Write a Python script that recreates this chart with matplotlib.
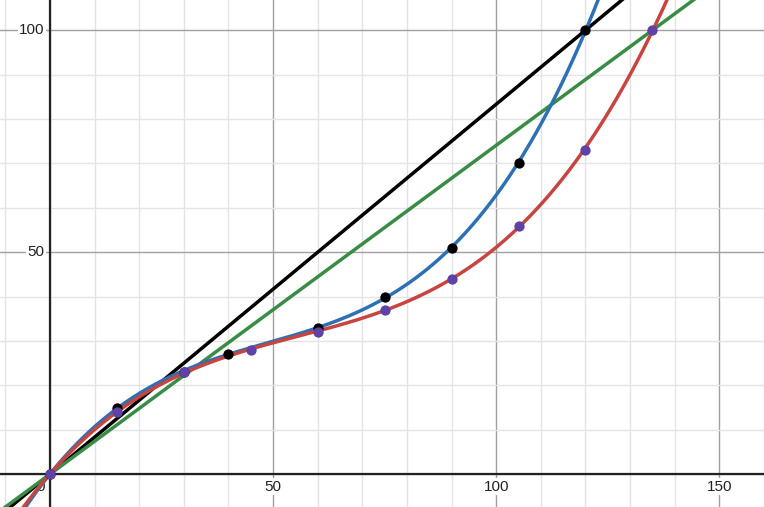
import numpy as np
import matplotlib.pyplot as plt

plt.rcParams['font.family'] = ['Liberation Sans', 'DejaVu Sans']

# black points / blue fit
bx = [0, 15, 30, 40, 60, 75, 90, 105, 120]
by = [0, 15, 23, 27, 33, 40, 51, 70, 100]
# purple points / red fit
px = [0, 15, 30, 45, 60, 75, 90, 105, 120, 135]
py = [0, 14, 23, 28, 32, 37, 44, 56, 73, 100]
# straight lines through origin and end point
black_end = (120, 100)
green_end = (135, 100)

BLUE, RED, GREEN, PURPLE = '#2d70b3', '#c74440', '#388c46', '#6042a6'

fig = plt.figure(figsize=(7.64, 5.07), dpi=100)
ax = fig.add_axes([0, 0, 1, 1])
xmin, xmax, ymin, ymax = -11.2, 160.0, -7.4, 106.8
ax.set_xlim(xmin, xmax)
ax.set_ylim(ymin, ymax)
for s in ax.spines.values():
    s.set_visible(False)
ax.set_xticks([]); ax.set_yticks([])

# grid
for g in np.arange(-10, 161, 10):
    major = g % 50 == 0
    ax.axvline(g, color='#a0a0a0' if major else '#e4e4e4', lw=1.0, zorder=0)
for g in np.arange(0, 107, 10):
    major = g % 50 == 0
    ax.axhline(g, color='#a0a0a0' if major else '#e4e4e4', lw=1.0, zorder=0)
ax.axhline(0, color='#222222', lw=1.6, zorder=1)
ax.axvline(0, color='#222222', lw=1.6, zorder=1)

# straight lines
xs = np.linspace(xmin, xmax, 50)
ax.plot(xs, xs * black_end[1] / black_end[0], color='black', lw=2.5, zorder=3)
ax.plot(xs, xs * green_end[1] / green_end[0], color=GREEN, lw=2.5, zorder=3)

# regression curves
xx = np.linspace(xmin, xmax, 600)
cb = np.polyfit(bx, by, 3)
cr = np.polyfit(px, py, 3)
ax.plot(xx, np.polyval(cb, xx), color=BLUE, lw=2.5, zorder=4)
ax.plot(xx, np.polyval(cr, xx), color=RED, lw=2.5, zorder=5)

ax.scatter(bx, by, s=55, color='black', zorder=6, linewidths=0)
ax.scatter(px, py, s=55, color=PURPLE, zorder=7, linewidths=0)

# axis labels
bbox = dict(facecolor='white', edgecolor='none', pad=1)
for v in [50, 100, 150]:
    ax.text(v, -2.8, str(v), ha='center', va='center', fontsize=11, color='#222222', bbox=bbox, zorder=2)
ax.text(-2.2, -2.8, '0', ha='center', va='center', fontsize=11, color='#222222', zorder=2)
for v in [50, 100]:
    ax.text(-1.2, v, str(v), ha='right', va='center', fontsize=11, color='#222222', bbox=bbox, zorder=2)

fig.savefig('out.png', dpi=100)
